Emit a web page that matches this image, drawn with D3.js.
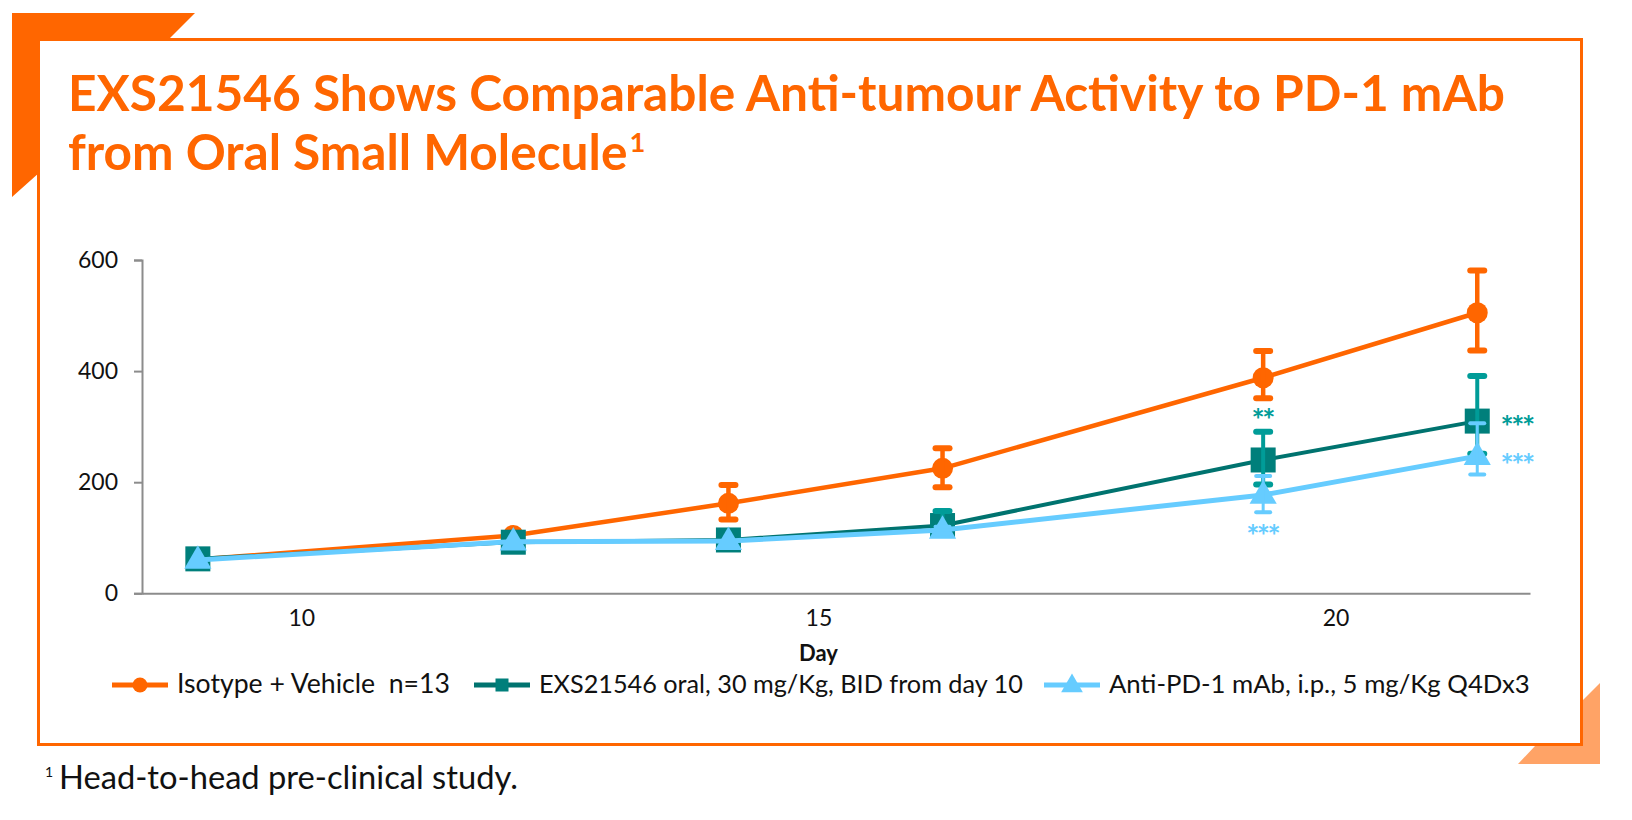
<!DOCTYPE html>
<html>
<meta charset="utf-8">
<style>
    body {
        margin: 0;
        background: #fff;
    }
    text {
        font-family: Lato, "Open Sans", sans-serif;
        white-space: pre;
    }
</style>
<body>
<script src="https://cdn.jsdelivr.net/npm/d3@7"></script>
<svg id="chart" width="1632" height="820"></svg>
<script>
// data
var days = [9, 12.05, 14.13, 16.2, 19.3, 21.37];

var isoMean = [61, 104, 162, 225, 388, 505];
var isoLo   = [61, 104, 133, 191, 351, 437];
var isoHi   = [61, 104, 195, 261, 436, 581];

var exsMean = [62, 92, 96, 122, 240, 310];
var exsLo   = [62, 92, 96, 110, 196, 251];
var exsHi   = [62, 92, 96, 148, 291, 391];

var pd1Mean = [60, 93, 94, 114, 177, 247];
var pd1Lo   = [60, 93, 94, 108, 146, 214];
var pd1Hi   = [60, 93, 94, 120, 211, 306];

var seriesNames = [
    "Isotype + Vehicle  n=13",
    "EXS21546 oral, 30 mg/Kg, BID from day 10",
    "Anti-PD-1 mAb, i.p., 5 mg/Kg Q4Dx3"
];

var xTicks = [10, 15, 20];
var yTicks = [0, 200, 400, 600];

// significance stars (day / value where they sit, which series colour)
var starText   = ["**", "***", "***", "***"];
var starDay    = [19.3, 21.76, 21.76, 19.3];
var starValue  = [326, 314, 245, 117];
var starSeries = [1, 1, 2, 2];

var titleLine1 = "EXS21546 Shows Comparable Anti-tumour Activity to PD-1 mAb";
var titleLine2 = "from Oral Small Molecule";
var footnote = "Head-to-head pre-clinical study.";

// ---------------------------------------------------------------
var orange = "#FF6600",
    teal = "#00736F",
    tealMark = "#007F7B",
    tealErr = "#009C98",
    blue = "#66CCFF";

var svg = d3.select("#chart");

function fitText(sel, w) {
    var len = sel.node().getComputedTextLength();
    var fs = parseFloat(sel.attr("font-size"));
    sel.attr("font-size", fs * w / len);
    return fs * w / len;
}

// frame + corner decorations
svg.append("rect")
    .attr("x", 38.5).attr("y", 39.5)
    .attr("width", 1543).attr("height", 705)
    .attr("fill", "none")
    .attr("stroke", orange)
    .attr("stroke-width", 3);

svg.append("polygon")
    .attr("points", "12,13 195,13 170,38 40,38 40,172 12,197")
    .attr("fill", orange);

svg.append("polygon")
    .attr("points", "1600,683 1583,700 1583,746 1535,746 1518,764 1600,764")
    .attr("fill", "#FFA366");

// title
var t1 = svg.append("text")
    .attr("x", 68).attr("y", 111)
    .attr("font-size", 46)
    .attr("font-weight", 700)
    .attr("fill", orange)
    .text(titleLine1);
var titleSize = fitText(t1, 1437);

var t2 = svg.append("text")
    .attr("x", 68).attr("y", 170)
    .attr("font-size", titleSize)
    .attr("font-weight", 700)
    .attr("fill", orange)
    .text(titleLine2);
t2.append("tspan")
    .attr("font-size", titleSize * 0.55)
    .attr("dy", -titleSize * 0.36)
    .attr("dx", 2)
    .text("1");

// scales
var x = d3.scaleLinear().domain([8.46, 21.88]).range([142, 1530]);
var y = d3.scaleLinear().domain([0, 600]).range([593.3, 260]);

// axes
var axisColor = "#8C8C8C";

var yAxis = svg.append("g")
    .attr("transform", "translate(142,0)")
    .call(d3.axisLeft(y).tickValues(yTicks).tickSize(8).tickPadding(16).tickFormat(d3.format("d")));
yAxis.select(".domain").attr("stroke", axisColor).attr("stroke-width", 2);
yAxis.selectAll(".tick line").attr("stroke", axisColor).attr("stroke-width", 2);
yAxis.selectAll(".tick text")
    .attr("font-family", "Lato, sans-serif")
    .attr("font-size", 23)
    .attr("fill", "#111");

var xAxis = svg.append("g")
    .attr("transform", "translate(0," + y(0) + ")")
    .call(d3.axisBottom(x).tickValues(xTicks).tickSize(0).tickPadding(16).tickFormat(d3.format("d")));
xAxis.select(".domain").attr("stroke", axisColor).attr("stroke-width", 2);
xAxis.selectAll(".tick text")
    .attr("font-family", "Lato, sans-serif")
    .attr("font-size", 23)
    .attr("fill", "#111");

svg.append("text")
    .attr("x", x(15)).attr("y", 661)
    .attr("text-anchor", "middle")
    .attr("font-size", 22)
    .attr("font-weight", 700)
    .attr("fill", "#111")
    .text("Day");

// series
var series = [
    {mean: isoMean, lo: isoLo, hi: isoHi, line: orange, mark: orange, err: orange, lw: 4.5, ew: 4.5, shape: "circle"},
    {mean: exsMean, lo: exsLo, hi: exsHi, line: teal, mark: tealMark, err: tealErr, lw: 4, ew: 4, shape: "square"},
    {mean: pd1Mean, lo: pd1Lo, hi: pd1Hi, line: blue, mark: blue, err: blue, lw: 5, ew: 3, shape: "triangle"}
];

var lineGen = d3.line()
    .x(function(d) { return x(d.day); })
    .y(function(d) { return y(d.v); });

function drawMarker(g, shape, color, cx, cy, s) {
    if (shape == "circle") {
        g.append("circle").attr("cx", cx).attr("cy", cy).attr("r", s).attr("fill", color);
    } else if (shape == "square") {
        g.append("rect").attr("x", cx - s).attr("y", cy - s)
            .attr("width", 2 * s).attr("height", 2 * s).attr("fill", color);
    } else {
        g.append("path")
            .attr("d", d3.symbol().type(d3.symbolTriangle).size(s * s * 3.2)())
            .attr("transform", "translate(" + cx + "," + (cy + 1) + ")")
            .attr("fill", color);
    }
}

var markSize = {circle: 10.5, square: 12.5, triangle: 10};

series.forEach(function(s) {
    var pts = days.map(function(d, i) { return {day: d, v: s.mean[i], lo: s.lo[i], hi: s.hi[i]}; });
    var g = svg.append("g");
    g.append("path")
        .datum(pts)
        .attr("d", lineGen)
        .attr("fill", "none")
        .attr("stroke", s.line)
        .attr("stroke-width", s.lw)
        .attr("stroke-linejoin", "round");

    pts.forEach(function(p) {
        drawMarker(g, s.shape, s.mark, x(p.day), y(p.v), markSize[s.shape]);
    });

    pts.forEach(function(p) {
        if (p.hi - p.lo < 1) return;
        var cx = x(p.day);
        g.append("line")
            .attr("x1", cx).attr("x2", cx)
            .attr("y1", y(p.hi)).attr("y2", y(p.lo))
            .attr("stroke", s.err).attr("stroke-width", s.ew);
        [p.hi, p.lo].forEach(function(v) {
            g.append("line")
                .attr("x1", cx - 7).attr("x2", cx + 7)
                .attr("y1", y(v)).attr("y2", y(v))
                .attr("stroke", s.err)
                .attr("stroke-width", s.ew == 3 ? 4 : 6)
                .attr("stroke-linecap", "round");
        });
    });
});

// stars
var starColors = [orange, tealErr, blue];
starText.forEach(function(t, i) {
    svg.append("text")
        .attr("x", x(starDay[i]) - 1).attr("y", y(starValue[i]) + 19)
        .attr("text-anchor", "middle")
        .attr("font-family", "'DejaVu Sans', sans-serif")
        .attr("font-size", 31)
        .attr("font-weight", 700)
        .attr("letter-spacing", -2.5)
        .attr("fill", starColors[starSeries[i]])
        .text(t);
});

// legend
var legStart = [112, 474, 1044];
var legTextEnd = [450, 1023, 1530];
var legY = 685;
seriesNames.forEach(function(name, i) {
    var s = series[i];
    var g = svg.append("g");
    g.append("line")
        .attr("x1", legStart[i]).attr("x2", legStart[i] + 56)
        .attr("y1", legY).attr("y2", legY)
        .attr("stroke", s.line).attr("stroke-width", 5);
    drawMarker(g, s.shape, s.mark, legStart[i] + 28, legY, s.shape == "circle" ? 7.5 : (s.shape == "square" ? 6.5 : 8));
    var tx = g.append("text")
        .attr("x", legStart[i] + 65).attr("y", legY + 8)
        .attr("font-size", 22)
        .attr("fill", "#111")
        .text(name);
    fitText(tx, legTextEnd[i] - legStart[i] - 65);
});

// footnote
svg.append("text")
    .attr("x", 45).attr("y", 777)
    .attr("font-size", 14)
    .attr("fill", "#111")
    .text("1");
var fn = svg.append("text")
    .attr("x", 59).attr("y", 789)
    .attr("font-size", 26)
    .attr("fill", "#111")
    .text(footnote);
fitText(fn, 459);
</script>
</body>
</html>
